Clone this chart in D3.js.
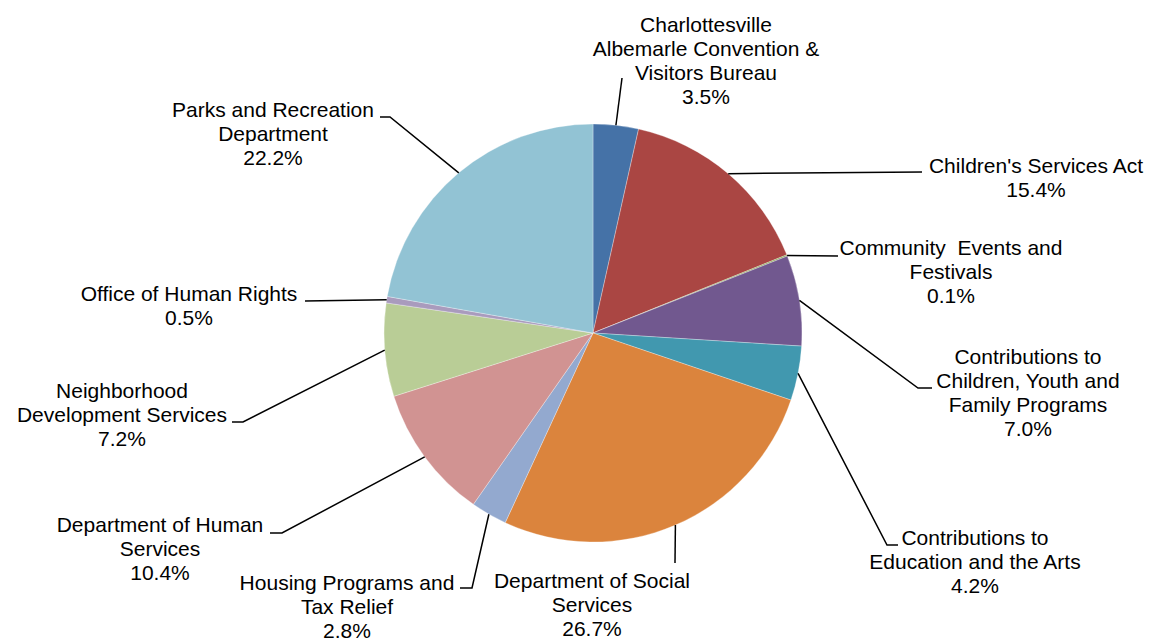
<!DOCTYPE html>
<html>
<head>
<meta charset="utf-8">
<script src="https://cdn.jsdelivr.net/npm/d3@7"></script>
<style>
  html, body { margin: 0; padding: 0; background: #fff; }
  #chart { width: 1156px; height: 644px; }
  .label text { font-family: "Liberation Sans", Arial, sans-serif; font-size: 21px; fill: #000; white-space: pre; }
</style>
</head>
<body>
<div id="chart"></div>
<script>
const categories = [
  "Charlottesville\nAlbemarle Convention &\nVisitors Bureau",
  "Children's Services Act",
  "Community  Events and\nFestivals",
  "Contributions to\nChildren, Youth and\nFamily Programs",
  "Contributions to\nEducation and the Arts",
  "Department of Social\nServices",
  "Housing Programs and\nTax Relief",
  "Department of Human\nServices",
  "Neighborhood\nDevelopment Services",
  "Office of Human Rights",
  "Parks and Recreation\nDepartment",
];
const shares = [3.5, 15.4, 0.1, 7.0, 4.2, 26.7, 2.8, 10.4, 7.2, 0.5, 22.2];
const colors = [
  "#4572a7", "#aa4643", "#89a54e", "#71588f", "#4198af", "#db843d",
  "#93a9cf", "#d19392", "#b9cd96", "#a99bbd", "#92c3d4",
];

// hand placed label boxes: text centre, first baseline, leader bends
const labelLayout = [
  { x: 706, y: 32, bends: [[622, 78]] },
  { x: 1036, y: 173, bends: [[922, 172]] },
  { x: 951, y: 255, bends: [[838, 256]] },
  { x: 1028, y: 364, bends: [[918, 388], [932, 388]] },
  { x: 975, y: 545, bends: [[887, 545], [898, 545]] },
  { x: 592, y: 588, bends: [[675, 563]] },
  { x: 347, y: 590, bends: [[472, 588], [460, 588]] },
  { x: 160, y: 532, bends: [[282, 533], [270, 533]] },
  { x: 122, y: 398, bends: [[243, 422], [232, 422]] },
  { x: 189, y: 301, bends: [[305, 301]] },
  { x: 273, y: 117, bends: [[390, 117], [380, 117]] },
];

const width = 1156, height = 644;
const cx = 593, cy = 333, radius = 209;
const lineHeight = 24;

const svg = d3.select("#chart").append("svg")
  .attr("width", width).attr("height", height);

const pie = d3.pie().sort(null).value((d) => d.value);
const data = categories.map((name, i) => ({ name, value: shares[i], color: colors[i], layout: labelLayout[i] }));
const arcs = pie(data);

const arc = d3.arc().innerRadius(0).outerRadius(radius);
const edge = d3.arc().innerRadius(radius).outerRadius(radius);

const g = svg.append("g").attr("transform", `translate(${cx},${cy})`);

g.selectAll("path.slice")
  .data(arcs)
  .join("path")
  .attr("class", "slice")
  .attr("d", arc)
  .attr("fill", (d) => d.data.color)
  .attr("stroke", "#ffffff")
  .attr("stroke-opacity", 0.5)
  .attr("stroke-width", 0.6);

// leader lines
const line = d3.line();
svg.append("g").selectAll("path")
  .data(arcs)
  .join("path")
  .attr("d", (d) => {
    const [sx, sy] = edge.centroid(d);
    return line([[sx + cx, sy + cy], ...d.data.layout.bends]);
  })
  .attr("fill", "none")
  .attr("stroke", "#000")
  .attr("stroke-width", 1.5);

// labels
const labels = svg.append("g").attr("class", "label");
arcs.forEach((d) => {
  const rows = d.data.name.split("\n").concat([d.data.value.toFixed(1) + "%"]);
  const t = labels.append("text")
    .attr("text-anchor", "middle")
    .attr("x", d.data.layout.x)
    .attr("y", d.data.layout.y);
  rows.forEach((r, i) => {
    t.append("tspan")
      .attr("x", d.data.layout.x)
      .attr("dy", i === 0 ? 0 : lineHeight)
      .text(r);
  });
});
</script>
</body>
</html>
